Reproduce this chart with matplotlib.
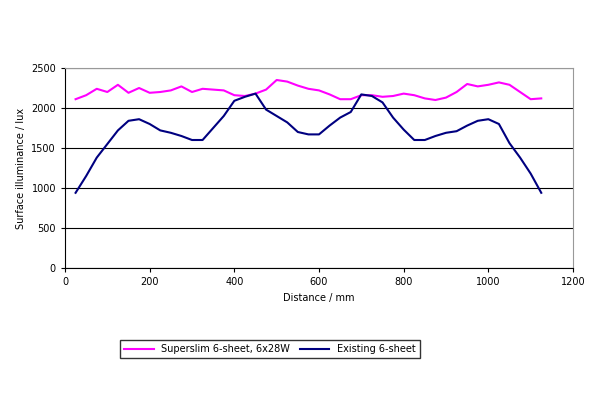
import matplotlib
matplotlib.use("Agg")
import matplotlib.pyplot as plt

distance = list(range(25, 1126, 25))
superslim = [2110,2160,2240,2200,2290,2190,2250,2190,2200,2220,2270,2200,2240,2230,2220,2160,2150,2180,2230,2350,2330,2280,2240,2220,2170,2110,2110,2160,2160,2140,2150,2180,2160,2120,2100,2130,2200,2300,2270,2290,2320,2290,2200,2110,2120]
existing = [940,1150,1380,1550,1720,1840,1860,1800,1720,1690,1650,1600,1600,1750,1900,2090,2140,2180,1980,1900,1820,1700,1670,1670,1780,1880,1950,2170,2150,2070,1880,1730,1600,1600,1650,1690,1710,1780,1840,1860,1800,1560,1380,1180,940]

fig = plt.figure(figsize=(6, 4), dpi=100)
ax = fig.add_axes([65/600, 1-268/400, 508/600, 200/400])
ax.plot(distance, superslim, color="#ff00ff", lw=1.5, label="Superslim 6-sheet, 6x28W")
ax.plot(distance, existing, color="#000080", lw=1.5, label="Existing 6-sheet")
ax.set_xlim(0, 1200)
ax.set_ylim(0, 2500)
ax.set_xticks(range(0, 1201, 200))
ax.set_yticks(range(0, 2501, 500))
ax.yaxis.grid(True, color="black", lw=0.8)
ax.set_axisbelow(True)
for s in ax.spines.values():
    s.set_color("#999999")
ax.spines["bottom"].set_color("black")
ax.spines["left"].set_color("black")
ax.tick_params(labelsize=7, length=3)
ax.set_xlabel("Distance / mm", fontsize=7)
ax.set_ylabel("Surface illuminance / lux", fontsize=7)
leg = fig.legend(loc="center", bbox_to_anchor=(270/600, 1-349/400), ncol=2, fontsize=7,
                 frameon=True, fancybox=False, edgecolor="black", handlelength=3, columnspacing=1)
fig.savefig("out.png")
